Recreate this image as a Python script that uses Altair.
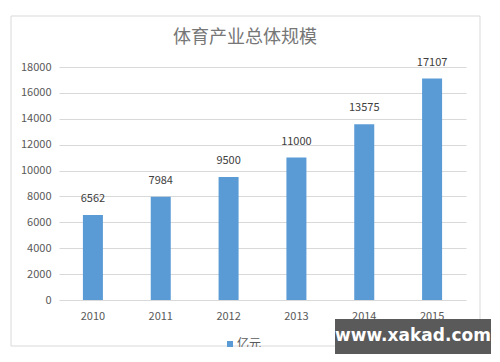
import altair as alt
import pandas as pd

years = ["2010", "2011", "2012", "2013", "2014", "2015"]
values = [6562, 7984, 9500, 11000, 13575, 17107]
y_ticks = [0, 2000, 4000, 6000, 8000, 10000, 12000, 14000, 16000, 18000]
title_text = "体育产业总体规模"
series_name = "亿元"
watermark = "www.xakad.com"

df = pd.DataFrame({"year": years, "value": values})

W, H = 407, 233
LEFT, TOP = 59, 67

x_enc = alt.X("year:N", sort=years,
              scale=alt.Scale(paddingInner=0.705, paddingOuter=0.3525),
              axis=alt.Axis(title=None, labelAngle=0, domain=False, ticks=False,
                            labelColor="#595959", labelFontSize=11, labelPadding=10,
                            labelFont="Noto Sans CJK SC"))
y_enc = alt.Y("value:Q", scale=alt.Scale(domain=[0, 18000], nice=False),
              axis=alt.Axis(title=None, values=y_ticks, tickCount=10,
                            format="d", labelOverlap=False,
                            domain=False, ticks=False, labelPadding=8,
                            labelColor="#595959", labelFontSize=11,
                            labelFont="Noto Sans CJK SC",
                            gridColor="#D9D9D9", gridWidth=1))

base = alt.Chart(df).encode(x=x_enc, y=y_enc)

border = alt.Chart(pd.DataFrame({"a": [0]})).mark_rect(
    fillOpacity=0, stroke="#D9D9D9", strokeWidth=1
).encode(
    x=alt.value(11 - LEFT), x2=alt.value(480 - LEFT),
    y=alt.value(16 - TOP), y2=alt.value(346 - TOP)
)

bars = base.mark_bar(color="#5B9BD5")

labels = base.mark_text(dy=-11, baseline="bottom", fontSize=11, color="#404040",
                        font="Noto Sans CJK SC").encode(text="value:Q")

title = alt.Chart(pd.DataFrame({"t": [title_text]})).mark_text(
    fontSize=18, color="#767676", font="Noto Sans CJK SC", baseline="middle", align="center"
).encode(x=alt.value(245 - LEFT), y=alt.value(38 - TOP), text="t:N")

leg_sq = alt.Chart(pd.DataFrame({"s": [series_name]})).mark_square(
    size=36, color="#5B9BD5", opacity=1
).encode(x=alt.value(230 - LEFT), y=alt.value(344 - TOP))

leg_txt = alt.Chart(pd.DataFrame({"s": [series_name]})).mark_text(
    fontSize=12, color="#595959", font="Noto Sans CJK SC", align="left", baseline="middle"
).encode(x=alt.value(237 - LEFT), y=alt.value(344 - TOP), text="s:N")

cover = alt.Chart(pd.DataFrame({"a": [0]})).mark_rect(fill="white").encode(
    x=alt.value(0 - LEFT), x2=alt.value(500 - LEFT),
    y=alt.value(347 - TOP), y2=alt.value(362 - TOP)
)

wm_box = alt.Chart(pd.DataFrame({"a": [0]})).mark_rect(fill="#5A5A5A").encode(
    x=alt.value(335 - LEFT), x2=alt.value(491 - LEFT),
    y=alt.value(319 - TOP), y2=alt.value(354 - TOP)
)

wm_txt = alt.Chart(pd.DataFrame({"w": [watermark]})).mark_text(
    fontSize=17, fontWeight="bold", color="white", font="DejaVu Sans",
    align="center", baseline="middle"
).encode(x=alt.value(413 - LEFT), y=alt.value(336 - TOP), text="w:N")

chart = alt.layer(border, bars, labels, title, leg_sq, leg_txt, cover, wm_box, wm_txt).properties(
    width=W, height=H,
    autosize=alt.AutoSizeParams(type="none"),
    padding={"left": LEFT, "top": TOP, "right": 500 - LEFT - W, "bottom": 362 - TOP - H},
    background="white",
).configure_view(stroke=None)

chart.save("out.html", embed_options={"renderer": "svg", "actions": False})
